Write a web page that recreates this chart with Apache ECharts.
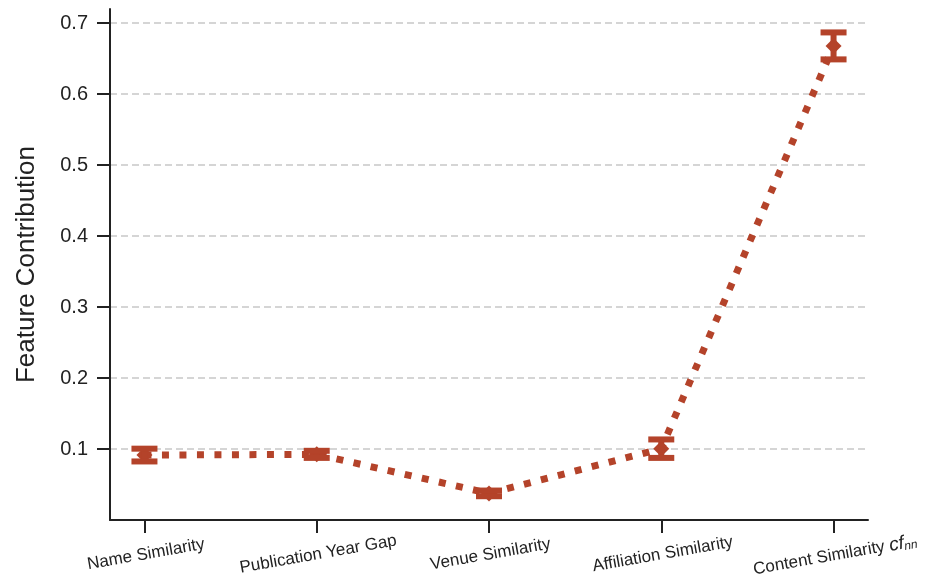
<!DOCTYPE html>
<html>
<head>
<meta charset="utf-8">
<script src="https://cdn.jsdelivr.net/npm/echarts@6/dist/echarts.min.js"></script>
<style>
  html, body { margin: 0; padding: 0; background: #fff; }
  #chart { width: 934px; height: 587px; }
</style>
</head>
<body>
<div id="chart"></div>
<script>
// Feature names along the x axis
const categories = ['Name Similarity', 'Publication Year Gap', 'Venue Similarity', 'Affiliation Similarity', 'Content Similarity cf_nn'];
// Mean contribution of each feature
const means = [0.0915, 0.0925, 0.0375, 0.1005, 0.668];
// Half-width of the error bar for each feature
const errors = [0.009, 0.005, 0.004, 0.013, 0.019];
// Y tick values
const yTicks = [0.1, 0.2, 0.3, 0.4, 0.5, 0.6, 0.7];

const COLOR = '#b4432a';
const FONT = '"Liberation Sans", Arial, sans-serif';

const idx = categories.map((_, i) => i);
const lineData = idx.map(i => [i, means[i]]);
const errData = idx.map(i => [i, means[i], means[i] - errors[i], means[i] + errors[i]]);

const chart = echarts.init(document.getElementById('chart'), null, { renderer: 'canvas' });

chart.setOption({
  animation: false,
  backgroundColor: '#ffffff',
  grid: { left: 110, right: 66, top: 9, bottom: 67, containLabel: false },
  xAxis: {
    type: 'value',
    min: -0.2,
    max: 4.2,
    axisLine: { show: true, onZero: false, lineStyle: { color: '#222', width: 2 } },
    axisTick: { show: true, customValues: idx, length: 13, lineStyle: { color: '#222', width: 2 } },
    splitLine: { show: false },
    axisLabel: {
      customValues: idx,
      rotate: 10,
      align: 'center',
      verticalAlign: 'top',
      margin: 26,
      color: '#222',
      fontFamily: FONT,
      fontSize: 17,
      formatter: function (v) {
        const name = categories[Math.round(v)];
        if (name === 'Content Similarity cf_nn') {
          return '{a|Content Similarity }{i|cf}{s|nn}';
        }
        return name;
      },
      rich: {
        a: { fontFamily: FONT, fontSize: 17, color: '#222' },
        i: { fontFamily: FONT, fontSize: 19, fontStyle: 'italic', color: '#222' },
        s: { fontFamily: FONT, fontSize: 12, fontStyle: 'italic', color: '#222', verticalAlign: 'bottom', padding: [7, 0, 0, 0] }
      }
    }
  },
  yAxis: {
    type: 'value',
    min: 0,
    max: 0.72,
    interval: 0.1,
    name: 'Feature Contribution',
    nameLocation: 'middle',
    nameGap: 70,
    nameTextStyle: { color: '#222', fontFamily: FONT, fontSize: 26 },
    axisLine: { show: true, onZero: false, lineStyle: { color: '#222', width: 2 } },
    axisTick: { show: true, customValues: yTicks, length: 13, lineStyle: { color: '#222', width: 2 } },
    axisLabel: {
      customValues: yTicks,
      margin: 22,
      color: '#222',
      fontFamily: FONT,
      fontSize: 20,
      formatter: v => v.toFixed(1)
    },
    splitLine: { show: true, lineStyle: { color: '#c8c8c8', width: 1.5, type: [7, 4] } }
  },
  series: [
    {
      type: 'line',
      data: lineData,
      z: 2,
      lineStyle: { color: COLOR, width: 7, type: [7, 10.5], cap: 'butt' },
      symbol: 'diamond',
      symbolSize: [16, 16],
      itemStyle: { color: COLOR },
      showSymbol: true
    },
    {
      type: 'custom',
      z: 3,
      data: errData,
      encode: { x: 0, y: [1, 2, 3] },
      renderItem: function (params, api) {
        const x = api.value(0);
        const lo = api.coord([x, api.value(2)]);
        const hi = api.coord([x, api.value(3)]);
        const half = 13;
        const style = { stroke: COLOR, lineWidth: 6, fill: null };
        return {
          type: 'group',
          children: [
            { type: 'line', shape: { x1: lo[0], y1: lo[1], x2: hi[0], y2: hi[1] }, style: style },
            { type: 'line', shape: { x1: lo[0] - half, y1: lo[1], x2: lo[0] + half, y2: lo[1] }, style: style },
            { type: 'line', shape: { x1: hi[0] - half, y1: hi[1], x2: hi[0] + half, y2: hi[1] }, style: style }
          ]
        };
      }
    }
  ]
});
</script>
</body>
</html>
